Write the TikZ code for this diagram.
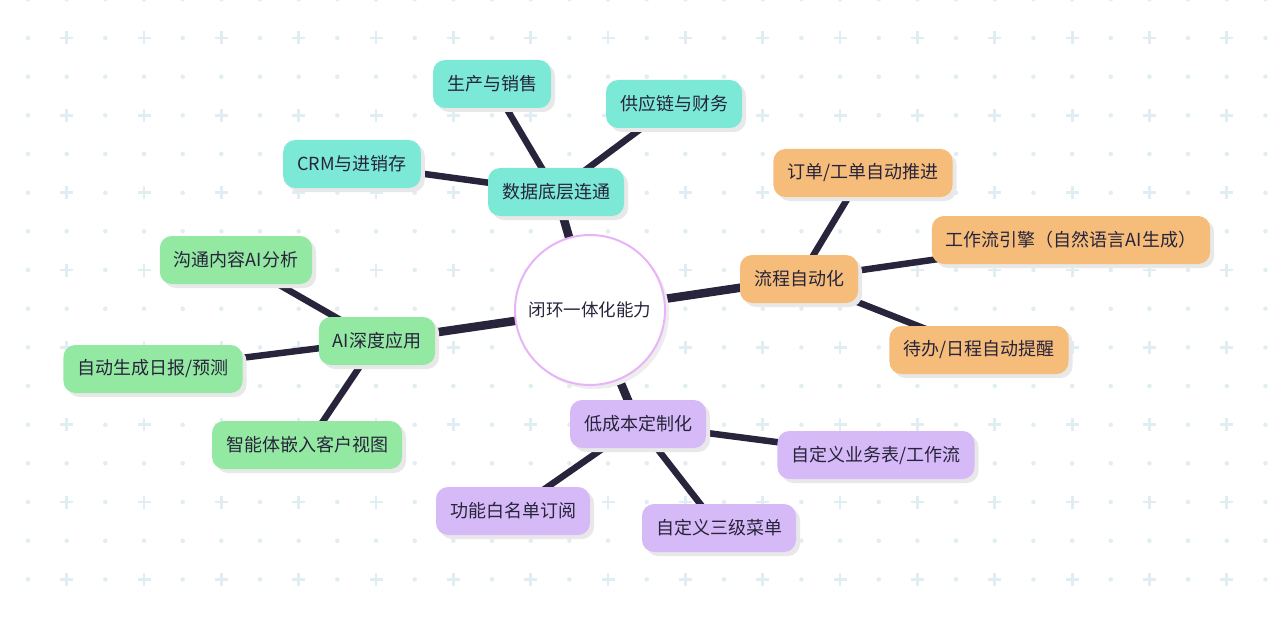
\documentclass[tikz,border=0pt]{standalone}
\usepackage{fontspec}
\setmainfont{Noto Sans CJK SC}
\usetikzlibrary{shadows}
\definecolor{ink}{HTML}{27243B}
\definecolor{gridc}{HTML}{E0EEF3}
\definecolor{tealc}{HTML}{7CE8D6}
\definecolor{orangec}{HTML}{F5BC7A}
\definecolor{greenc}{HTML}{93E8A2}
\definecolor{purplec}{HTML}{D6B9F7}
\definecolor{ringc}{HTML}{E8B4F8}
\pgfdeclarelayer{grid}
\pgfdeclarelayer{links}
\pgfsetlayers{grid,links,main}
\tikzset{
  topic/.style={rounded corners=12pt, minimum height=48pt, inner xsep=14pt,
    text=ink, font=\fontsize{18}{20}\selectfont,
    drop shadow={shadow xshift=4pt, shadow yshift=-4pt, fill=black!9, opacity=1}},
  hub/.style={circle, draw=ringc, line width=2pt, fill=white, minimum size=150pt,
    text=ink, font=\fontsize{17.5}{20}\selectfont,
    drop shadow={shadow xshift=4pt, shadow yshift=-4pt, fill=black!7, opacity=1}},
  datac/.style={topic, fill=tealc},
  flowc/.style={topic, fill=orangec},
  aic/.style={topic, fill=greenc},
  costc/.style={topic, fill=purplec},
  trunk/.style={draw=ink, line width=8.5pt},
  twig/.style={draw=ink, line width=6.5pt}
}
\begin{document}
\begin{tikzpicture}[x=1pt,y=-1pt]
\useasboundingbox (0,0) rectangle (1280,623);
% background dots and crosses
\begin{pgfonlayer}{grid}
  \foreach \i in {0,...,32}
    \foreach \j in {-1,1,...,13}
      \fill[gridc] ({28+38.67*\i},{38+38.67*\j}) circle (2.3pt);
  \foreach \i in {0,2,...,32}
    \foreach \j in {0,2,...,14}
      \fill[gridc] ({28+38.67*\i},{38+38.67*\j}) circle (2.3pt);
  \foreach \i in {1,3,...,31}
    \foreach \j in {0,2,...,14}
      \draw[gridc, line width=2.8pt, shift={({28+38.67*\i},{38+38.67*\j})}]
        (-6.5,0) -- (6.5,0) (0,-6.5) -- (0,6.5);
\end{pgfonlayer}

\node (core) [hub] at (590,310) {闭环一体化能力};

% data branch
\node (data) [datac] at (556,192) {数据底层连通};
\node (sales) [datac] at (492,84) {生产与销售};
\node (supply) [datac] at (674,104) {供应链与财务};
\node (crm) [datac] at (352,164) {CRM与进销存};

% flow branch
\node (flow) [flowc] at (799,279) {流程自动化};
\node (order) [flowc] at (863,173) {订单/工单自动推进};
\node (engine) [flowc] at (1071,240) {工作流引擎（自然语言AI生成）};
\node (todo) [flowc] at (979,350) {待办/日程自动提醒};

% ai branch
\node (ai) [aic] at (377,341) {AI深度应用};
\node (talk) [aic] at (236,260) {沟通内容AI分析};
\node (report) [aic] at (153,369) {自动生成日报/预测};
\node (agent) [aic] at (307,445) {智能体嵌入客户视图};

% cost branch
\node (cost) [costc] at (638,424) {低成本定制化};
\node (table) [costc] at (876,455) {自定义业务表/工作流};
\node (white) [costc] at (513,511) {功能白名单订阅};
\node (menu) [costc] at (719,528) {自定义三级菜单};

\begin{pgfonlayer}{links}
  \draw[trunk] (core.center) -- (data.center);
  \draw[trunk] (core.center) -- (flow.center);
  \draw[trunk] (core.center) -- (ai.center);
  \draw[trunk] (core.center) -- (cost.center);
  \draw[twig] (data.center) -- (sales.center);
  \draw[twig] (data.center) -- (supply.center);
  \draw[twig] (data.center) -- (crm.center);
  \draw[twig] (flow.center) -- (order.center);
  \draw[twig] (flow.center) -- (engine.center);
  \draw[twig] (flow.center) -- (todo.center);
  \draw[twig] (ai.center) -- (talk.center);
  \draw[twig] (ai.center) -- (report.center);
  \draw[twig] (ai.center) -- (agent.center);
  \draw[twig] (cost.center) -- (table.center);
  \draw[twig] (cost.center) -- (white.center);
  \draw[twig] (cost.center) -- (menu.center);
\end{pgfonlayer}
\end{tikzpicture}
\end{document}
